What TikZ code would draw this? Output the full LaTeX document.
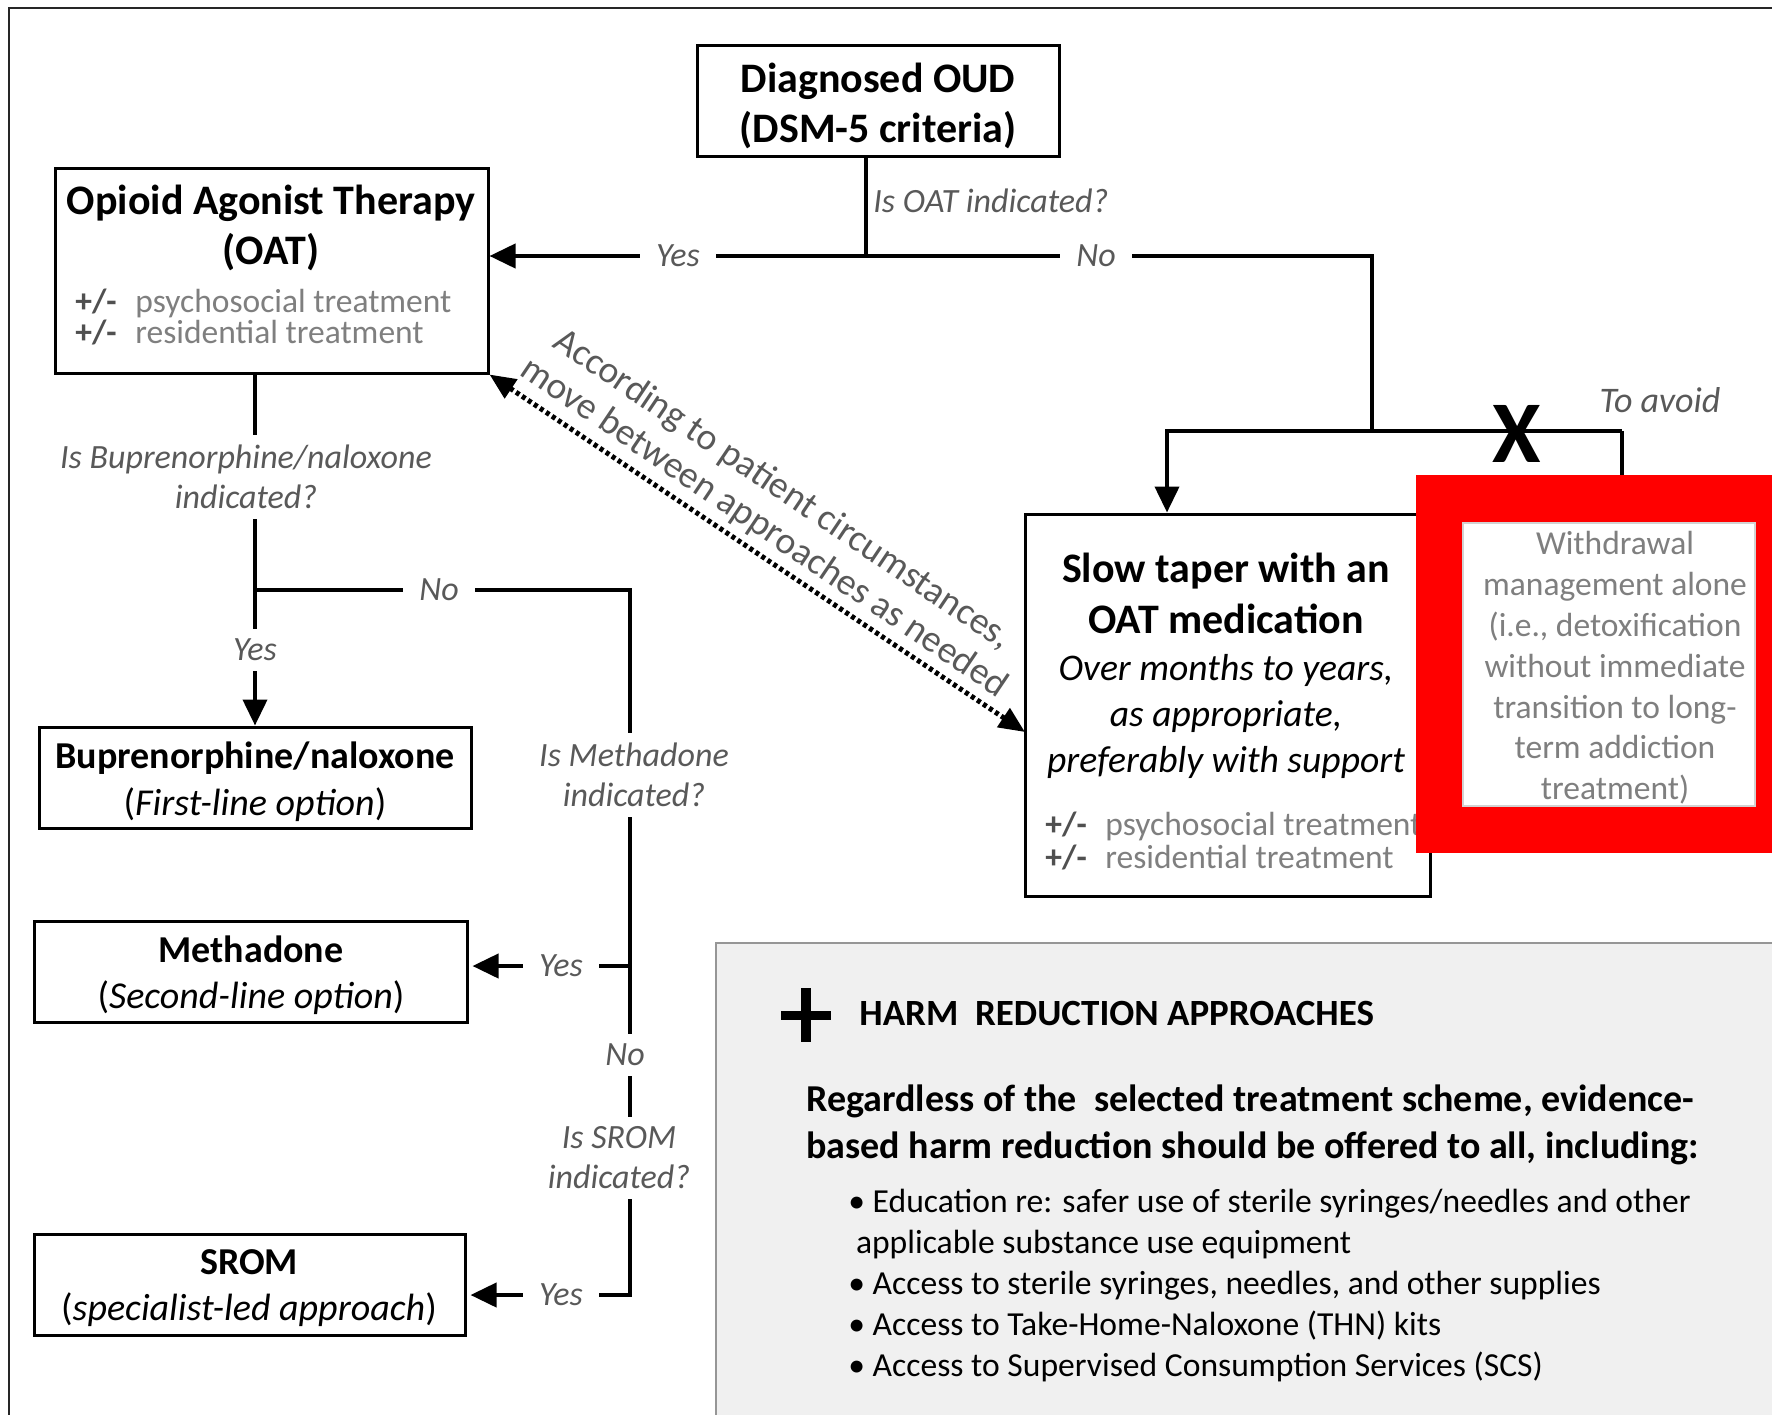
\documentclass[tikz,border=0pt]{standalone}
\usepackage{fontspec}
\setmainfont{Carlito}
\usetikzlibrary{arrows.meta,calc}
\definecolor{labgray}{RGB}{89,89,89}
\definecolor{ltgray}{RGB}{127,127,127}
\definecolor{pmgray}{RGB}{80,80,80}
\definecolor{harmfill}{RGB}{240,240,240}
\definecolor{harmline}{RGB}{150,150,150}
\newcommand\myfs[2]{\fontsize{#1}{#2}\selectfont}
\newcommand\plmitem[1]{\makebox[30pt][l]{\color{pmgray}\bfseries +/-}{\color{ltgray}#1}}
\begin{document}
\begin{tikzpicture}[x=0.5pt,y=-0.5pt,
  box/.style={draw, line width=1.5pt, inner sep=0pt},
  conn/.style={line width=2pt},
  arr/.style={-{Triangle[length=13pt,width=12pt]}},
  lab/.style={fill=white, font=\myfs{17}{20}\itshape, text=labgray, inner xsep=8pt, inner ysep=5pt, align=center},
  movelab/.style={rotate=-34, font=\myfs{18.8}{20.5}, text=labgray},
]
\useasboundingbox (0,0) rectangle (1772,1414);
\fill[white] (0,0) rectangle (1772,1414);
\draw[line width=1pt, draw=black!85] (9,8) rectangle (1900,1500);

% ---- boxes ----
\node[box, minimum width=181pt, minimum height=55.5pt] (oud) at (878,100.5) {};
\node[font=\myfs{21}{25}\bfseries, align=center] (oudtxt) at (878,106) {Diagnosed OUD\\(DSM-5 criteria)};

\node[box, minimum width=216.5pt, minimum height=102.5pt] (oat) at (271.5,270.5) {};
\node[font=\myfs{21}{25}\bfseries, align=center] (oattitle) at (271,228) {Opioid Agonist Therapy\\(OAT)};
\node[anchor=west, inner sep=0pt, font=\myfs{16.75}{15.5}, align=left] (oatitems) at (75,317.5) {\plmitem{psychosocial treatment}\\\plmitem{residential treatment}};

\node[box, minimum width=216pt, minimum height=50.5pt] (bup) at (255,777.5) {};
\node[align=center, font=\myfs{19}{23.5}] (buptxt) at (255,781.5) {\bfseries Buprenorphine/naloxone\\(\textit{First-line option})};

\node[box, minimum width=216.5pt, minimum height=50.5pt] (meth) at (250.5,971.5) {};
\node[align=center, font=\myfs{19}{23}] (methtxt) at (251,975) {\bfseries Methadone\\(\textit{Second-line option})};

\node[box, minimum width=215.5pt, minimum height=50.5pt] (srom) at (249.5,1284.5) {};
\node[align=center, font=\myfs{19}{23}] (sromtxt) at (249,1288) {\bfseries SROM\\(\textit{specialist-led approach})};

\node[box, minimum width=202.5pt, minimum height=191pt] (taper) at (1227.5,705) {};
\node[font=\myfs{21}{25.5}\bfseries, align=center] (tapertitle) at (1226,593.5) {Slow taper with an\\OAT medication};
\node[font=\myfs{18.8}{23}\itshape, align=center] (taperital) at (1226,716.5) {Over months to years,\\as appropriate,\\preferably with support};
\node[anchor=west, inner sep=0pt, font=\myfs{16.75}{16.5}, align=left] (taperitems) at (1045,840.5) {\plmitem{psychosocial treatment}\\\plmitem{residential treatment}};

% red frame + withdrawal
\node[fill=red, anchor=north west, inner sep=0pt, minimum width=192pt, minimum height=189pt] (redframe) at (1416,475) {};
\node[fill=white, draw=gray!35, line width=1pt, inner sep=0pt, minimum width=146pt, minimum height=141.5pt] (wd) at (1609,664.5) {};
\node[font=\myfs{16.75}{20.4}, text=ltgray, align=center] (wdtxt) at (1615,668) {Withdrawal\\management alone\\(i.e., detoxification\\without immediate\\transition to long-\\term addiction\\treatment)};

% ---- coordinates ----
\coordinate (j1) at (866,256);
\coordinate (j2) at (1372,256);
\coordinate (j3) at (1372,431);
\coordinate (j4) at (1167,431);
\coordinate (j5) at (1622,431);
\coordinate (b1) at (255,590);
\coordinate (b2) at (630,590);
\coordinate (m1) at (630,966);
\coordinate (s1) at (630,1295);
\coordinate (dt) at (1025,732);

% ---- connectors ----
\draw[conn] (oud.south -| j1) -- (j1);
\draw[conn, arr] (j3) -- (j2) -- (oat.east |- j2);
\draw[conn, arr] (j5) -- (j4) -- (taper.north -| j4);
\draw[conn] (j5) -- (redframe.north -| j5);
\node[font=\myfs{44}{44}\bfseries] (xmark) at (1517,434) {X};
\node[font=\myfs{18}{20}\itshape, text=labgray] (avoid) at (1660,400) {To avoid};

\draw[conn, arr] (oat.south -| b1) -- (bup.north);
\draw[conn, arr, shorten >=2pt] (b1) -- (b2) -- (s1) -- (srom.east |- s1);
\draw[conn, arr, shorten >=2pt] (m1) -- (meth.east |- m1);

\draw[line width=2.5pt, dash pattern=on 2pt off 1.6pt, {Triangle[length=13pt,width=11pt]}-{Triangle[length=13pt,width=11pt]}] (oat.south east) -- (dt);
\node[movelab] (move1) at (782,490) {According to patient circumstances,};
\node[movelab] (move2) at (764,528) {move between approaches as needed};

% ---- labels ----
\node[anchor=west, inner sep=0pt, font=\myfs{17}{20}\itshape, text=labgray] (qoat) at (873,201) {Is OAT indicated?};
\node[lab] (yes1) at (678,256) {Yes};
\node[lab] (no1) at (1096,256) {No};
\node[lab] (qbup) at (246,477) {Is Buprenorphine/naloxone\\indicated?};
\node[lab] (yes2) at (255,650) {Yes};
\node[lab] (no2) at (439,590) {No};
\node[lab] (qmeth) at (634,775) {Is Methadone\\indicated?};
\node[lab] (yes3) at (561,966) {Yes};
\node[lab] (no3) at (625,1055) {No};
\node[lab] (qsrom) at (619,1158) {Is SROM\\indicated?};
\node[lab] (yes4) at (561,1295) {Yes};

% ---- harm reduction ----
\node[fill=harmfill, draw=harmline, line width=1pt, anchor=north west, inner sep=0pt, minimum width=542.5pt, minimum height=249pt] (harm) at (715,942) {};
\draw[line width=4.5pt] (781,1015) -- (831,1015);
\draw[line width=5pt] (806,988) -- (806,1042);
\node[anchor=west, inner sep=0pt, font=\myfs{18.5}{22}\bfseries] (harmtitle) at (859,1013) {HARM~ REDUCTION APPROACHES};
\node[anchor=west, inner sep=0pt, font=\myfs{19}{23.5}\bfseries, align=left] (harmlead) at (806,1125) {Regardless of the~ selected treatment scheme, evidence-\\based harm reduction should be offered to all, including:};
\node[anchor=west, inner sep=0pt, font=\myfs{16.8}{20.5}, align=left] (harmlist) at (848,1285.5) {\textbullet\ Education re: safer use of sterile syringes/needles and other\\\ applicable substance use equipment\\\textbullet\ Access to sterile syringes, needles, and other supplies\\\textbullet\ Access to Take-Home-Naloxone (THN) kits\\\textbullet\ Access to Supervised Consumption Services (SCS)};
\end{tikzpicture}
\end{document}
